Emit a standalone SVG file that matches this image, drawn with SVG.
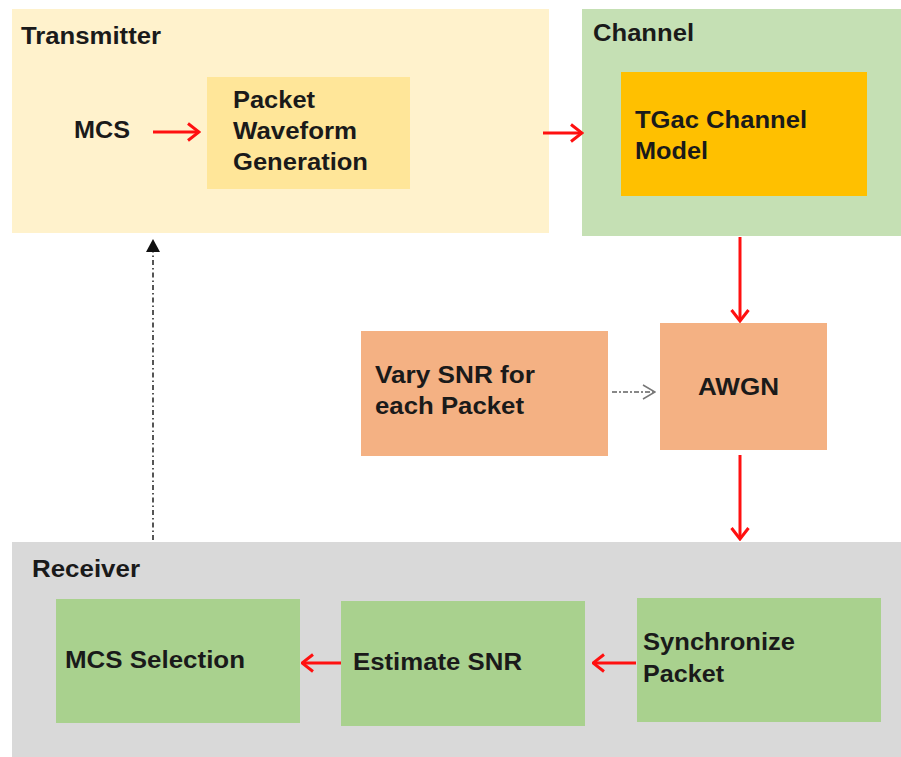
<svg xmlns="http://www.w3.org/2000/svg" width="901" height="757" viewBox="0 0 901 757">
<defs>
<style>
text{font-family:"Liberation Sans",Arial,sans-serif;font-weight:bold;font-size:23px;fill:#1a1a1a}
.red{stroke:#ff1010;stroke-width:3;fill:none}
</style>
<marker id="redhead" viewBox="0 0 14 20" refX="12.5" refY="10" markerWidth="14" markerHeight="20" markerUnits="userSpaceOnUse" orient="auto">
<path d="M1.5 1.5 L12.5 10 L1.5 18.5" fill="none" stroke="#ff1010" stroke-width="3"/>
</marker>
<marker id="greyhead" viewBox="0 0 14 16" refX="13" refY="8" markerWidth="14" markerHeight="16" markerUnits="userSpaceOnUse" orient="auto">
<path d="M1 1 L13 8 L1 15" fill="none" stroke="#777" stroke-width="1.5"/>
</marker>
</defs>
<rect width="901" height="757" fill="#fff"/>

<g id="transmitter">
<rect x="12" y="9" width="537" height="224" fill="#fff2cc"/>
<text x="21" y="44" textLength="140" lengthAdjust="spacingAndGlyphs">Transmitter</text>
</g>
<g id="mcs">
<text x="74" y="138" textLength="56" lengthAdjust="spacingAndGlyphs">MCS</text>
</g>
<g id="pwg">
<rect x="207" y="77" width="203" height="112" fill="#ffe699"/>
<text x="233" y="108" textLength="82" lengthAdjust="spacingAndGlyphs">Packet</text>
<text x="233" y="139" textLength="124" lengthAdjust="spacingAndGlyphs">Waveform</text>
<text x="233" y="170" textLength="135" lengthAdjust="spacingAndGlyphs">Generation</text>
</g>
<g id="channel">
<rect x="582" y="9" width="319" height="227" fill="#c5e0b4"/>
<text x="593" y="41" textLength="101" lengthAdjust="spacingAndGlyphs">Channel</text>
</g>
<g id="tgac">
<rect x="621" y="72" width="246" height="124" fill="#ffc000"/>
<text x="635" y="128" textLength="172" lengthAdjust="spacingAndGlyphs">TGac Channel</text>
<text x="635" y="159" textLength="73" lengthAdjust="spacingAndGlyphs">Model</text>
</g>
<g id="varysnr">
<rect x="361" y="331" width="247" height="125" fill="#f4b183"/>
<text x="375" y="383" textLength="160" lengthAdjust="spacingAndGlyphs">Vary SNR for</text>
<text x="375" y="414" textLength="149" lengthAdjust="spacingAndGlyphs">each Packet</text>
</g>
<g id="awgn">
<rect x="660" y="323" width="167" height="127" fill="#f4b183"/>
<text x="698" y="395" textLength="81" lengthAdjust="spacingAndGlyphs">AWGN</text>
</g>
<g id="receiver">
<rect x="12" y="542" width="889" height="215" fill="#d9d9d9"/>
<text x="32" y="577" textLength="108" lengthAdjust="spacingAndGlyphs">Receiver</text>
</g>
<g id="mcsselection">
<rect x="56" y="599" width="244" height="124" fill="#a9d18e"/>
<text x="65" y="668" textLength="180" lengthAdjust="spacingAndGlyphs">MCS Selection</text>
</g>
<g id="estimatesnr">
<rect x="341" y="601" width="244" height="125" fill="#a9d18e"/>
<text x="353" y="670" textLength="169" lengthAdjust="spacingAndGlyphs">Estimate SNR</text>
</g>
<g id="synchronize">
<rect x="637" y="598" width="244" height="124" fill="#a9d18e"/>
<text x="643" y="650" textLength="152" lengthAdjust="spacingAndGlyphs">Synchronize</text>
<text x="643" y="682" textLength="81" lengthAdjust="spacingAndGlyphs">Packet</text>
</g>

<g id="connectors">
<line class="red" x1="153" y1="132" x2="199" y2="132" marker-end="url(#redhead)"/>
<line class="red" x1="543" y1="133" x2="582" y2="133" marker-end="url(#redhead)"/>
<line class="red" x1="740" y1="237" x2="740" y2="321" marker-end="url(#redhead)"/>
<line class="red" x1="740" y1="455" x2="740" y2="539" marker-end="url(#redhead)"/>
<line class="red" x1="341" y1="663" x2="302" y2="663" marker-end="url(#redhead)"/>
<line class="red" x1="636" y1="663" x2="593" y2="663" marker-end="url(#redhead)"/>
<line x1="612" y1="392" x2="655" y2="392" stroke="#888" stroke-width="2" stroke-dasharray="5,2,2,2" marker-end="url(#greyhead)"/>
<line x1="153" y1="540" x2="153" y2="252" stroke="#555" stroke-width="2" stroke-dasharray="5,3,1.5,3"/>
<path d="M153 239 L160 252 L146 252 Z" fill="#111"/>
</g>
</svg>
